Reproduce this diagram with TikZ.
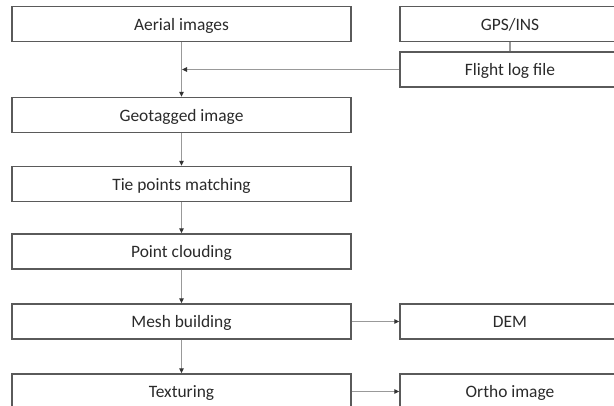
\documentclass[tikz,border=0pt]{standalone}
\usepackage{fontspec}
\setmainfont{Carlito}
\usetikzlibrary{arrows.meta}
\definecolor{boxline}{HTML}{5A5A5A}
\definecolor{conn}{HTML}{999999}
\definecolor{tipc}{HTML}{333333}
\definecolor{txt}{HTML}{2A2A2A}
\tikzset{
  stepbox/.style={draw=boxline, line width=1.3pt, fill=white, rectangle, minimum width=339pt, minimum height=35pt, inner sep=0pt, text height=12pt, text depth=0pt, font=\fontsize{17.4}{20}\selectfont, text=txt},
  sidebox/.style={stepbox, minimum width=220pt},
  flow/.style={draw=conn, line width=1.2pt, -{Triangle[length=5pt,width=4.5pt,color=tipc]}},
  link/.style={draw=conn, line width=1.2pt}
}
\begin{document}
\begin{tikzpicture}[x=1pt,y=-1pt]
\useasboundingbox (0,0) rectangle (614,405);
\node[stepbox] (aerial) at (181.5,24) {Aerial images};
\node[stepbox] (geo) at (181.5,115) {Geotagged image};
\node[stepbox] (tie) at (181.5,184) {Tie points matching};
\node[stepbox] (point) at (181.5,251.5) {Point clouding};
\node[stepbox] (mesh) at (181.5,321.5) {Mesh building};
\node[stepbox] (tex) at (181.5,391.5) {Texturing};
\node[sidebox] (gps) at (510,24) {GPS/INS};
\node[sidebox] (flight) at (510,69.5) {Flight log file};
\node[sidebox] (dem) at (510,321.5) {DEM};
\node[sidebox] (ortho) at (510,391.5) {Ortho image};
\coordinate (join) at (182,69.5);
\draw[flow] (aerial) -- (geo);
\draw[link] (gps) -- (flight);
\draw[flow] (flight.west) -- (join);
\draw[flow] (geo) -- (tie);
\draw[flow] (tie) -- (point);
\draw[flow] (point) -- (mesh);
\draw[flow] (mesh) -- (tex);
\draw[flow] (mesh) -- (dem);
\draw[flow] (tex) -- (ortho);
\end{tikzpicture}
\end{document}
